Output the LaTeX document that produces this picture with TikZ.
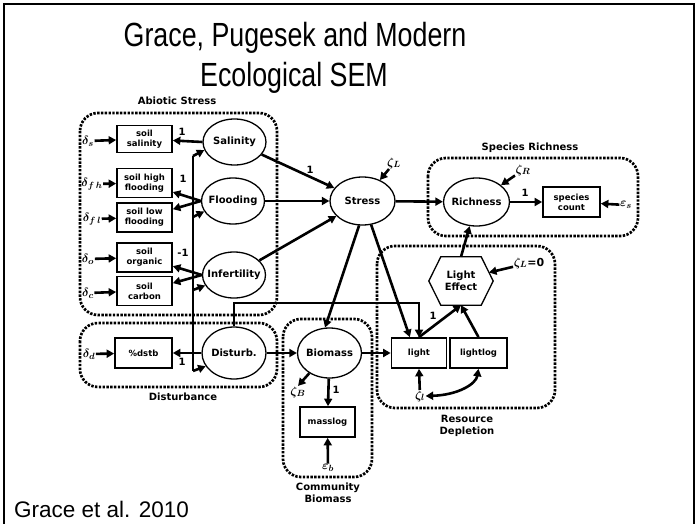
\documentclass[tikz,border=0pt]{standalone}
\usepackage[no-math]{fontspec}
\setmainfont{DejaVu Sans}
\newfontfamily\slidefont{Liberation Sans}
\newfontfamily\headfont[FakeStretch=0.8]{Liberation Sans}
\usetikzlibrary{arrows.meta,shapes.geometric,calc}

\tikzset{
  lat/.style={ellipse, draw, line width=1.3pt, minimum width=63pt, minimum height=46pt,
    inner xsep=-6pt, inner ysep=0pt, font=\bfseries\fontsize{10}{12}\selectfont},
  obs/.style={rectangle, draw, line width=1.7pt, minimum width=55pt, minimum height=29pt,
    inner sep=0pt, align=center, font=\bfseries\fontsize{8.5}{10}\selectfont},
  arr/.style={line width=2.6pt, -{Triangle[length=7.5pt,width=8pt]}},
  dbl/.style={line width=2.6pt, {Triangle[length=7.5pt,width=8pt]}-{Triangle[length=7.5pt,width=8pt]}},
  grp/.style={line width=2.7pt, dash pattern=on 2.4pt off 1.4pt, rounded corners=18pt},
  grplab/.style={font=\bfseries\fontsize{10}{12}\selectfont, align=center, inner sep=0pt},
  err/.style={font=\boldmath\fontsize{12.5}{13}\selectfont, inner sep=0.5pt},
  coef/.style={font=\bfseries\fontsize{10}{12}\selectfont, inner sep=0pt},
  head/.style={font=\headfont\fontsize{33.5}{40}\selectfont, anchor=base, inner sep=0pt},
}

\begin{document}
\begin{tikzpicture}[x=1pt,y=-1pt]
\useasboundingbox (0,0) rectangle (698,524);
\fill[white] (0,0) rectangle (698,524);

% slide frame
\draw[line width=1.5pt] (4,524) -- (4,4) -- (694,4) -- (694,524);

% title and citation
\node[head] (title1) at (295,47) {Grace, Pugesek and Modern};
\node[head] (title2) at (294,87) {Ecological SEM};
\node[font=\slidefont\fontsize{22.5}{26}\selectfont, anchor=west, inner sep=0pt] (cite)
  at (14,509) {Grace et al. 2010};

% dotted groups
\draw[grp] (80,113) rectangle (277,315);
\draw[grp] (80,323) rectangle (277,387);
\draw[grp] (428,158) rectangle (638,236);
\draw[grp] (377,246) rectangle (555,408);
\draw[grp] (283,319) rectangle (372,477);

\node[grplab] (gAbio) at (177,101) {Abiotic Stress};
\node[grplab] (gDist) at (183,397) {Disturbance};
\node[grplab] (gRich) at (530,148) {Species Richness};
\node[grplab] (gRes) at (467,426) {Resource\\Depletion};
\node[grplab] (gCom) at (328,493) {Community\\Biomass};

% observed indicators
\node[obs, minimum height=27pt] (ssal) at (144.5,139) {soil\\salinity};
\node[obs] (shigh) at (144.5,183) {soil high\\flooding};
\node[obs] (slow) at (144.5,217.5) {soil low\\flooding};
\node[obs] (sorg) at (144.5,257.5) {soil\\organic};
\node[obs] (scarb) at (144.5,291) {soil\\carbon};
\node[obs, minimum width=57pt, minimum height=30pt] (dstb) at (143.5,353) {\%dstb};
\node[obs, minimum height=30pt] (masslog) at (327.5,422) {masslog};
\node[obs, minimum height=30pt] (light) at (419,353) {light};
\node[obs, minimum width=57pt, minimum height=30pt] (llog) at (478.5,353) {lightlog};
\node[obs, minimum width=57pt, minimum height=30pt] (scount) at (571.5,202) {species\\count};

% latent variables
\node[lat] (sal) at (234.5,142) {Salinity};
\node[lat] (flood) at (233,201) {Flooding};
\node[lat] (infert) at (234,275) {Infertility};
\node[lat, minimum width=64pt, minimum height=52pt] (dist) at (234,353) {Disturb.};
\node[lat, minimum width=65pt, minimum height=48pt] (stress) at (362.5,201) {Stress};
\node[lat, minimum width=66pt, minimum height=48pt] (rich) at (476.5,202) {Richness};
\node[lat, minimum width=64pt, minimum height=50pt] (bio) at (329.5,353) {Biomass};

% composite: hexagon
\node[inner sep=0pt, minimum width=64pt, minimum height=48pt, align=center,
  font=\bfseries\fontsize{10}{12}\selectfont] (le) at (461,281) {Light\\Effect};
\draw[line width=1.3pt] (le.west) -- ($(le.north west)+(12,0)$) -- ($(le.north east)+(-12,0)$)
  -- (le.east) -- ($(le.south east)+(-12,0)$) -- ($(le.south west)+(12,0)$) -- cycle;
\coordinate (leR) at ($(le.east)!0.35!($(le.north east)+(-12,0)$)$);

% error terms
\node[err] (ds) at (88,141) {$\delta_s$};
\node[err] (dfh) at (92,184) {$\delta_{f\,h}$};
\node[err] (dfl) at (92,219) {$\delta_{f\,l}$};
\node[err] (do) at (88,259) {$\delta_o$};
\node[err] (dc) at (88,293) {$\delta_c$};
\node[err] (dd) at (89,354) {$\delta_d$};
\node[err] (zS) at (394,163) {$\zeta_L$};
\node[err] (zR) at (523,170) {$\zeta_R$};
\node[err] (es) at (626,205) {$\varepsilon_s$};
\node[err] (zB) at (298,392) {$\zeta_B$};
\node[err] (eb) at (328,468) {$\varepsilon_b$};
\node[err] (zl) at (420,396) {$\zeta_l$};
\node[err] (zLE) at (529,263) {$\zeta_L$\textbf{\fontsize{11}{12}\selectfont=0}};

\draw[arr] (ds) -- (ssal);
\draw[arr] (dfh) -- (shigh);
\draw[arr] (dfl) -- (slow);
\draw[arr] (do) -- (sorg);
\draw[arr] (dc) -- (scarb);
\draw[arr] (dd) -- (dstb);
\draw[arr] (zS) -- (stress);
\draw[arr] (zR) -- (rich);
\draw[arr] (es) -- (scount);
\draw[arr] (bio.225) -- (zB.north);
\draw[arr] (eb) -- (masslog);
\draw[arr] (zl) -- (light.south);
\draw[arr] (zLE) -- (leR);
\draw[dbl] (zl.east) .. controls (458,395) and (476,384) .. (llog.south);

% loadings
\draw[arr] (sal.west) -- (ssal);
\draw[arr] (flood.west) -- (shigh);
\draw[arr] (flood.west) -- (slow);
\draw[arr] (infert.west) -- (sorg);
\draw[arr] (infert.west) -- (scarb);
\draw[arr] (dist.west) -- (dstb);
\draw[arr] (bio) -- (masslog);
\draw[arr] (rich) -- (scount);

% disturbance bus
\coordinate (b1) at (193,156);
\coordinate (b2) at (193,217);
\coordinate (b3) at (193,290);
\coordinate (b4) at (193,371);
\draw[line width=2.6pt] (b1) -- (b4);
\draw[arr] (b1) -- (sal.195);
\draw[arr] (b2) -- (flood.200);
\draw[arr] (b3) -- (infert.200);
\draw[arr] (b4) -- (dist.205);

% structural paths
\draw[arr] (sal) -- (stress);
\draw[arr] (flood) -- (stress);
\draw[arr] (infert) -- (stress);
\draw[arr] (stress) -- (rich);
\draw[arr] (stress.262) -- (bio.100);
\draw[arr] (stress.290) -- (light.120);
\draw[arr] (dist) -- (bio);
\draw[arr] (bio) -- (light);
\coordinate (dlc) at (418,303);
\draw[arr] (dist.north) |- (light.north |- dlc) -- (light.north);
\draw[arr] (light.north) -- (le.south);
\draw[arr] (llog.north) -- (le.south);
\draw[arr] (le.north) -- (rich);

% fixed coefficients
\node[coef] (c1) at (182,132) {1};
\node[coef] (c2) at (183,179) {1};
\node[coef] (c3) at (183,253) {-1};
\node[coef] (c4) at (182,362) {1};
\node[coef] (c5) at (310,170) {1};
\node[coef] (c6) at (525,193) {1};
\node[coef] (c7) at (336,390) {1};
\node[coef] (c8) at (433,316) {1};
\end{tikzpicture}
\end{document}
